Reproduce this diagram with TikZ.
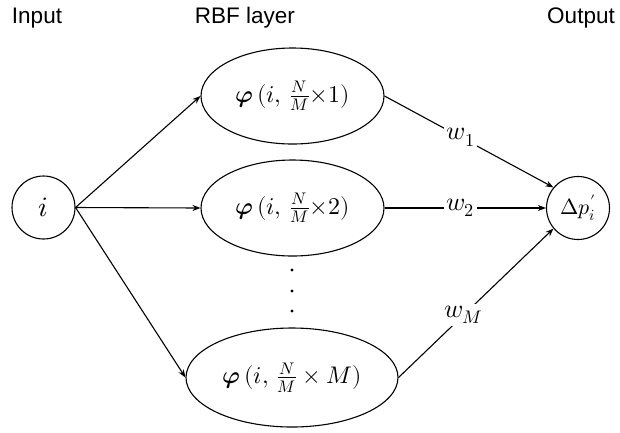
\documentclass[tikz,border=0pt]{standalone}
\usepackage{amsmath}
\usepackage{unicode-math}
\setmathfont{Latin Modern Math}
\newfontfamily\headfont{Liberation Sans}
\usetikzlibrary{arrows.meta,shapes.geometric}
\begin{document}
\begin{tikzpicture}[x=1pt,y=-1pt,
  line width=1.1pt,
  arr/.style={-{Stealth[length=8pt,width=6pt]}},
  head/.style={font=\headfont\fontsize{22.5}{26}\selectfont},
  mfont/.style={font=\fontsize{24}{28}\selectfont},
  neuron/.style={draw,circle,minimum size=63pt,inner sep=0pt,mfont},
  rbf/.style={draw,ellipse,minimum width=183pt,minimum height=96pt,inner sep=0pt,mfont},
  wlab/.style={fill=white,inner sep=2pt,font=\fontsize{26}{30}\selectfont},
  dot/.style={circle,fill=black,inner sep=0pt,minimum size=3.2pt}]
\useasboundingbox (0,0) rectangle (620,432);
\node[head] (hin) at (37,18) {Input};
\node[head] (hrbf) at (245,18) {RBF layer};
\node[head] (hout) at (581,18) {Output};
\node[neuron,font=\fontsize{28}{32}\selectfont] (in) at (43.5,207.5) {$i$};
\node[neuron,font=\fontsize{22}{26}\selectfont] (out) at (578,208) {$\Delta p^{\prime}_{i}$};
\node[rbf] (r1) at (292.5,96) {$\symbfit{\varphi}\,(i,\,\frac{N}{M}{\times}1)$};
\node[rbf] (r2) at (292.5,208) {$\symbfit{\varphi}\,(i,\,\frac{N}{M}{\times}2)$};
\node[rbf,minimum width=212pt,minimum height=99pt] (r3) at (292,377.5) {$\symbfit{\varphi}\,(i,\,\frac{N}{M}\times M)$};
\node[dot] (d1) at (292,270) {};
\node[dot] (d2) at (292,291) {};
\node[dot] (d3) at (292,311) {};
\draw[arr] (in.east) -- (r1.west);
\draw[arr] (in.east) -- (r2.west);
\draw[arr] (in.east) -- (r3.west);
\draw[arr] (r1.east) -- node[wlab,pos=0.45] (w1) {$w_1$} (out.140);
\draw[arr] (r2.east) -- node[wlab,pos=0.47] (w2) {$w_2$} (out.west);
\draw[arr] (r3.east) -- node[wlab,pos=0.42] (wM) {$w_M$} (out.220);
\end{tikzpicture}
\end{document}
